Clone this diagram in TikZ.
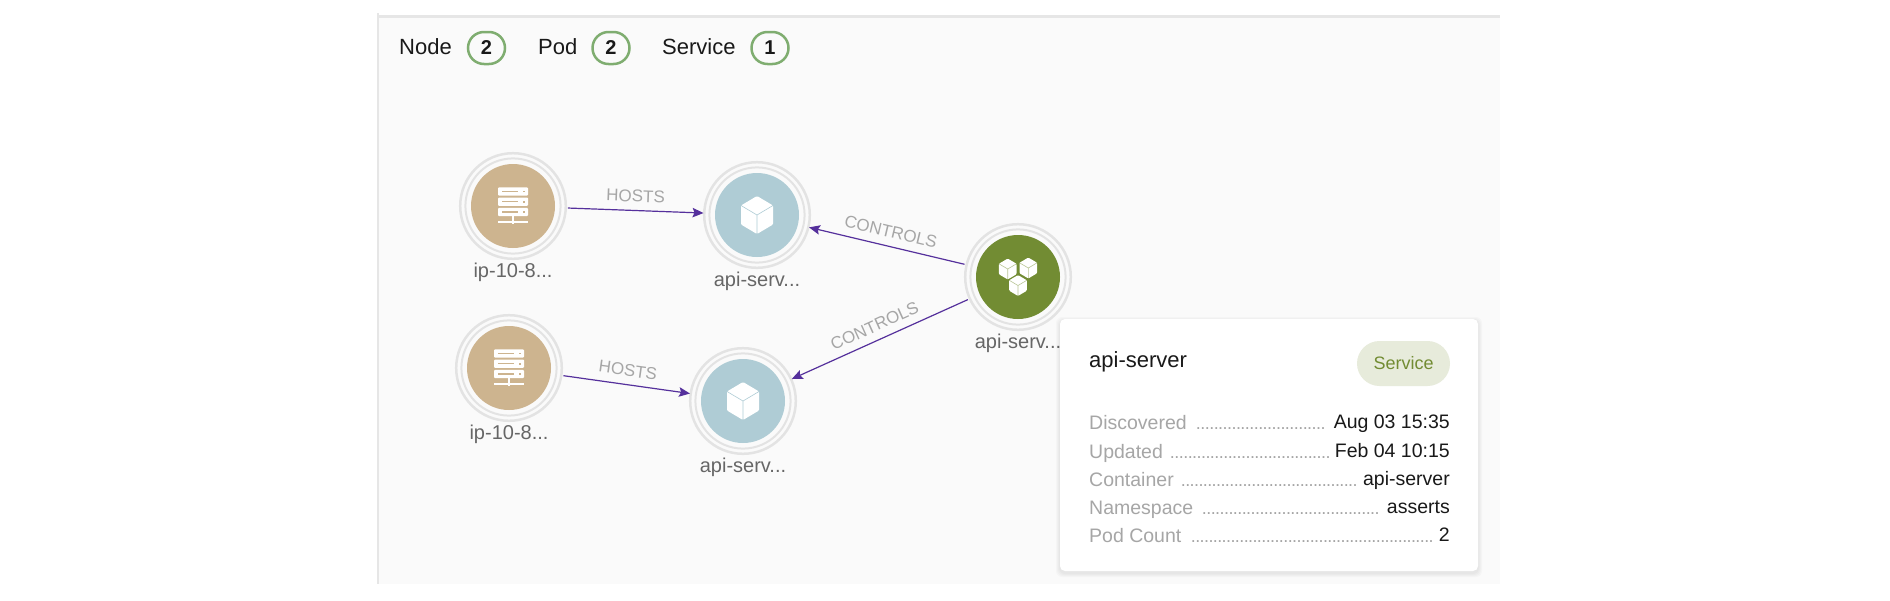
\documentclass[tikz,border=0pt]{standalone}
\usepackage{fontspec}
\setmainfont{Liberation Sans}
\usepackage{xcolor}
\usetikzlibrary{arrows.meta}
\usetikzlibrary{positioning}
\usetikzlibrary{shapes.misc}

\definecolor{paneback}{HTML}{FAFAFA}
\definecolor{paneline}{HTML}{E6E6E6}
\definecolor{ringgrey}{HTML}{E3E3E3}
\definecolor{hosttan}{HTML}{CDB48F}
\definecolor{podblue}{HTML}{AFCCD5}
\definecolor{svcolive}{HTML}{728C33}
\definecolor{svcline}{HTML}{B9C696}
\definecolor{flowpurple}{HTML}{55309C}
\definecolor{badgegreen}{HTML}{7FAD70}
\definecolor{pillback}{HTML}{E7EBDB}

\newcommand{\fsz}[1]{\fontsize{#1}{#1}\selectfont}
\newcommand{\dotrun}[1]{\hbox to #1pt{\xleaders\hbox to 4.4pt{\hss.\hss}\hfil}}

\tikzset{
  ringnode/.style={circle,minimum size=110pt,inner sep=0pt,outer sep=0pt},
  ringline/.style={draw=ringgrey},
  namelabel/.style={below=1pt of #1,inner sep=0pt,text height=15pt,text depth=5pt,font=\fsz{20},text=black!60},
  flow/.style={-{Stealth[length=11pt,width=9.5pt,inset=2pt]},shorten >=-1.5pt,color=flowpurple,line width=1.2pt},
  edgelabel/.style={above=8pt,sloped,inner sep=0pt,text height=12pt,text depth=0pt,font=\fsz{17},text=black!35},
  legendword/.style={anchor=base west,inner sep=0pt,font=\fsz{22},text=black!90},
  countbadge/.style={rounded rectangle,draw=badgegreen,line width=2.5pt,minimum width=37pt,minimum height=32pt,inner sep=0pt,font=\fsz{20}\bfseries,text=black!90},
  cardbox/.style={fill=white,rounded corners=5pt,minimum width=418pt,minimum height=252pt,inner sep=0pt},
  rowkey/.style={anchor=base west,inner sep=0pt,font=\fsz{19.5},text=black!35},
  rowdots/.style={anchor=base west,inner sep=0pt,font=\fsz{18},text=black!35},
  rowval/.style={anchor=base east,inner sep=0pt,font=\fsz{19.5},text=black!90},
  pics/cube/.style={code={
    \fill[white,rounded corners=1pt] (0,-19) -- (16,-9.5) -- (16,9.5) -- (0,19) -- (-16,9.5) -- (-16,-9.5) -- cycle;
    \draw[color=#1,line width=.6pt] (-16,-9.5) -- (0,0) -- (16,-9.5) (0,0) -- (0,19);
  }},
  pics/rack/.style={code={
    \foreach \top in {-18.7,-8.5,1.8} {
      \fill[white,rounded corners=1pt] (-15,\top) rectangle (15,\top+8.4);
      \fill[hosttan] (-11.5,\top+3.5) rectangle (5,\top+4.9);
      \fill[hosttan] (10,\top+3.4) rectangle (11.8,\top+5);
    }
    \fill[white] (-1,10) rectangle (1,18);
    \fill[white] (-15,15.3) rectangle (15,17.3);
  }}
}

\begin{document}
\begin{tikzpicture}[x=1pt,y=-1pt]
  \useasboundingbox (0,0) rectangle (1890,600);
  \fill[white] (0,0) rectangle (1890,600);

  % panel
  \fill[paneback] (378,16) rectangle (1500,584);
  \fill[paneline] (378,15) rectangle (1500,17.5);
  \fill[paneline] (377,13) rectangle (379,584);

  % legend
  \foreach \nm/\lx/\word/\bx/\cnt in {n/399/Node/486.5/2,p/538/Pod/611/2,s/662/Service/770/1} {
    \node[legendword] (word\nm) at (\lx,54) {\word};
    \node[countbadge] (count\nm) at (\bx,48) {\cnt};
  }

  % graph
  \foreach \nm/\px/\py/\col in {host1/513/206/hosttan,pod1/757/215/podblue,host2/509/368/hosttan,pod2/743/401/podblue,svc/1018/277/svcolive} {
    \node[ringnode] (\nm) at (\px,\py) {};
    \draw[ringline,line width=2.5pt] (\nm) circle (52.8pt);
    \draw[ringline,line width=2pt] (\nm) circle (47.6pt);
    \fill[\col] (\nm) circle (42pt);
  }
  \pic at (host1) {rack};
  \pic at (host2) {rack};
  \pic at (pod1) {cube=podblue};
  \pic at (pod2) {cube=podblue};
  \begin{scope}[shift={(svc)}]
    \pic[scale=.55] at (-10.3,-8) {cube=svcline};
    \pic[scale=.55] at (10.3,-9) {cube=svcline};
    \pic[scale=.55] at (0,8.5) {cube=svcline};
  \end{scope}

  \node[namelabel=host1] (host1name) {ip-10-8...};
  \node[namelabel=pod1] (pod1name) {api-serv...};
  \node[namelabel=host2] (host2name) {ip-10-8...};
  \node[namelabel=pod2] (pod2name) {api-serv...};
  \node[namelabel=svc] (svcname) {api-serv...};

  \path[flow] (host1) edge node[edgelabel] {HOSTS} (pod1);
  \path[flow] (host2) edge node[edgelabel] {HOSTS} (pod2);
  \path[flow] (svc) edge node[edgelabel] {CONTROLS} (pod1);
  \path[flow] (svc) edge node[edgelabel] {CONTROLS} (pod2);

  % details card
  \foreach \g in {4,3,2,1} {
    \fill[black,opacity=.018,rounded corners=6pt] ({1060-\g},{319-\g+2}) rectangle ({1478+\g},{571+\g+2});
  }
  \node[cardbox] (card) at (1269,445) {};
  \node[anchor=base west,inner sep=0pt,font=\fsz{22},text=black!90] (cardtitle) at (1089,367) {api-server};
  \node[rounded rectangle,fill=pillback,minimum width=93pt,minimum height=45pt,inner sep=0pt,font=\fsz{18},text=svcolive] (cardkind) at (1403.5,363.5) {Service};
  \foreach \i/\ry/\key/\val/\dx/\dw in {1/428/Discovered/Aug 03 15:35/1196/129,2/457/Updated/Feb 04 10:15/1170/160,3/485/Container/api-server/1181/176,4/513/Namespace/asserts/1202/177,5/541/Pod Count/2/1191/242} {
    \node[rowkey] (key\i) at (1089,\ry+1.5) {\key};
    \node[rowdots] (dots\i) at (\dx,\ry+1.5) {\dotrun{\dw}};
    \node[rowval] (val\i) at (1450,\ry) {\val};
  }
\end{tikzpicture}
\end{document}
